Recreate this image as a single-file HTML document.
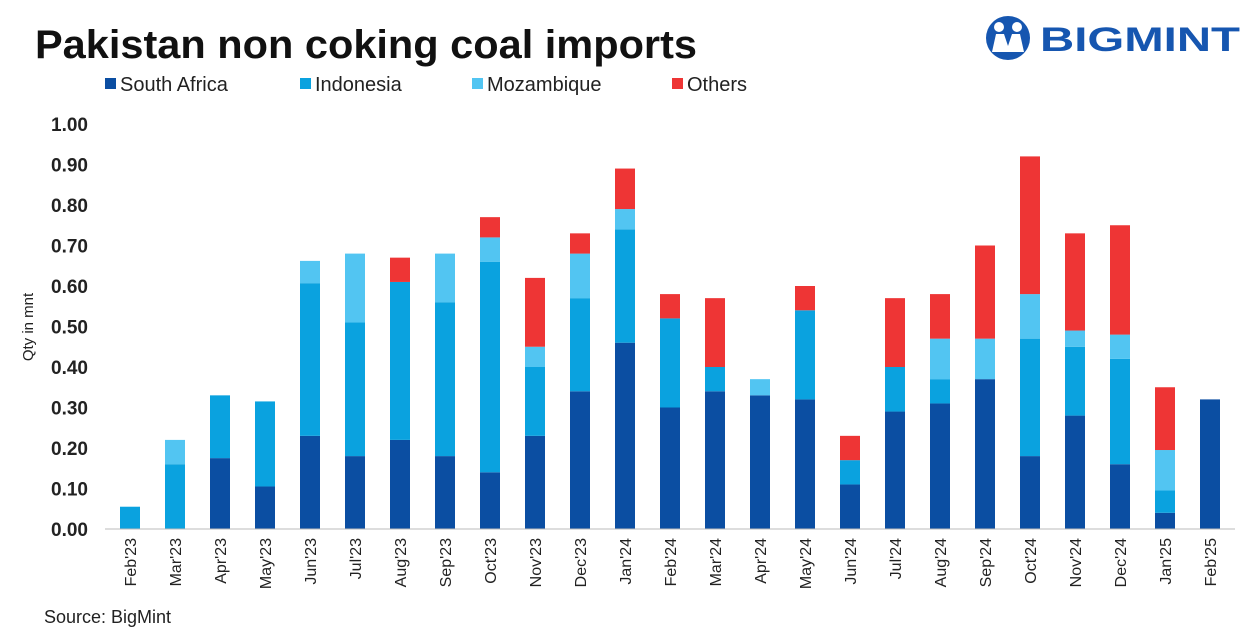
<!DOCTYPE html>
<html><head><meta charset="utf-8"><style>
body{margin:0;background:#fff;width:1253px;height:631px;overflow:hidden;font-family:"Liberation Sans",sans-serif}
</style></head><body>
<svg width="1253" height="631" xmlns="http://www.w3.org/2000/svg" font-family="Liberation Sans, sans-serif">
<text x="35" y="58" font-size="40" font-weight="bold" fill="#111" textLength="662" lengthAdjust="spacingAndGlyphs">Pakistan non coking coal imports</text>
<g>
<circle cx="1008" cy="38" r="22" fill="#1656b0"/>
<circle cx="999" cy="27" r="5" fill="#fff"/><circle cx="1017" cy="27" r="5" fill="#fff"/>
<path d="M992 52 L996 34 L1004 34 L1008 46 L1012 34 L1020 34 L1024 52 Z" fill="#fff"/>
<text x="1040" y="51" font-size="34" font-weight="bold" fill="#1656b0" textLength="200" lengthAdjust="spacingAndGlyphs">BIGMINT</text>
</g>
<g id="legend" font-size="20" fill="#222"></g>
<text transform="translate(33,327) rotate(-90)" text-anchor="middle" font-size="15" fill="#222">Qty in mnt</text>
<g id="yaxis"></g><g id="bars"></g><g id="xaxis"></g>
<line x1="105" y1="529" x2="1235" y2="529" stroke="#bbb" stroke-width="1"/>
<text x="44" y="623" font-size="18" fill="#222">Source: BigMint</text>
</svg>
<script>
const categories=["Feb'23","Mar'23","Apr'23","May'23","Jun'23","Jul'23","Aug'23","Sep'23","Oct'23","Nov'23","Dec'23","Jan'24","Feb'24","Mar'24","Apr'24","May'24","Jun'24","Jul'24","Aug'24","Sep'24","Oct'24","Nov'24","Dec'24","Jan'25","Feb'25"];
const southAfrica=[0,0,0.175,0.105,0.23,0.18,0.22,0.18,0.14,0.23,0.34,0.46,0.30,0.34,0.33,0.32,0.11,0.29,0.31,0.37,0.18,0.28,0.16,0.04,0.32];
const indonesia=[0.055,0.16,0.155,0.21,0.377,0.33,0.39,0.38,0.52,0.17,0.23,0.28,0.22,0.06,0,0.22,0.06,0.11,0.06,0,0.29,0.17,0.26,0.055,0];
const mozambique=[0,0.06,0,0,0.055,0.17,0,0.12,0.06,0.05,0.11,0.05,0,0,0.04,0,0,0,0.10,0.10,0.11,0.04,0.06,0.10,0];
const others=[0,0,0,0,0,0,0.06,0,0.05,0.17,0.05,0.10,0.06,0.17,0,0.06,0.06,0.17,0.11,0.23,0.34,0.24,0.27,0.155,0];
const yTicks=[0,0.1,0.2,0.3,0.4,0.5,0.6,0.7,0.8,0.9,1.0];
const seriesNames=["South Africa","Indonesia","Mozambique","Others"];
const colors=["#0b4ea2","#0aa2df","#52c5f2","#ee3535"];
const NS="http://www.w3.org/2000/svg";
const y=v=>529-v*405;
const x=i=>130+i*45;
function mk(t,a,p){const e=document.createElementNS(NS,t);for(const k in a)e.setAttribute(k,a[k]);p.appendChild(e);return e;}
const ya=document.getElementById('yaxis');
yTicks.forEach(v=>{const t=mk('text',{x:88,y:y(v)+7,'text-anchor':'end','font-size':19,'font-weight':'bold',fill:'#222'},ya);t.textContent=v.toFixed(2);

});
const bg=document.getElementById('bars');const xa=document.getElementById('xaxis');
const data=[southAfrica,indonesia,mozambique,others];
categories.forEach((c,i)=>{let base=0;
data.forEach((s,k)=>{const v=s[i];if(v>0){const r=mk('rect',{x:x(i)-10,y:y(base+v),width:20,height:y(base)-y(base+v),fill:colors[k]},bg);

}base+=v;});
const t=mk('text',{transform:`translate(${x(i)+6},538) rotate(-90)`,'text-anchor':'end','font-size':16,fill:'#222'},xa);t.textContent=c;

});
const lg=document.getElementById('legend');const lx=[105,300,472,672];
seriesNames.forEach((n,k)=>{const r=mk('rect',{x:lx[k],y:78,width:11,height:11,fill:colors[k]},lg);


const t=mk('text',{x:lx[k]+15,y:91,'font-size':20,fill:'#222'},lg);t.textContent=n;

});
</script>
</body></html>
